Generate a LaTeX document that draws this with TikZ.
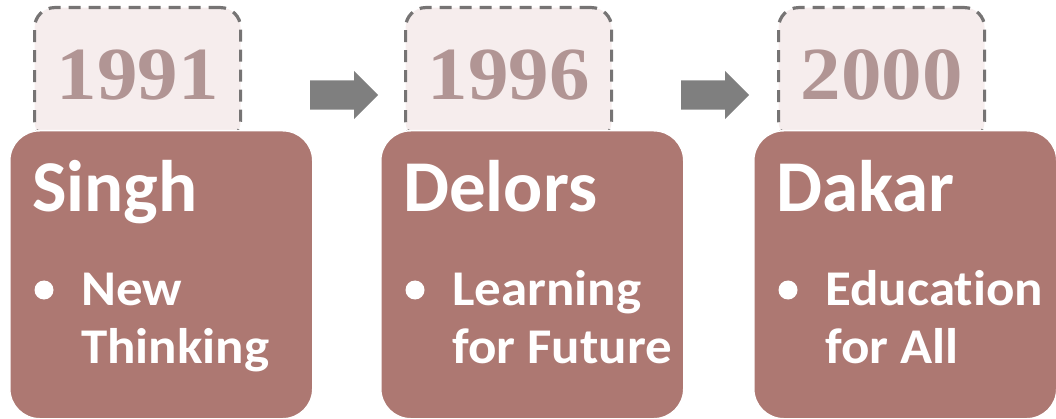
\documentclass[tikz,border=0pt]{standalone}
\usepackage{fontspec}
\setmainfont{Carlito}[Ligatures=NoCommon]
\newfontfamily\yearfont{Liberation Serif}
\usetikzlibrary{shapes,positioning}

\definecolor{boxred}{RGB}{173,120,114}
\definecolor{yearpink}{RGB}{246,237,237}
\definecolor{yeartext}{RGB}{177,149,148}
\definecolor{dashgray}{RGB}{118,116,116}
\definecolor{arrowgray}{RGB}{127,127,127}

\begin{document}
\begin{tikzpicture}[x=1pt, y=-1pt,
  yearbox/.style = {draw=dashgray, fill=yearpink, dash pattern=on 12pt off 8pt, line width=3.2pt, rounded corners=20pt, minimum width=206pt, minimum height=134pt, inner sep=0pt},
  yearnum/.style = {font=\yearfont\bfseries\fontsize{75}{80}\selectfont, text=yeartext, inner sep=0pt, xscale=1.08},
  mainbox/.style = {draw=white, line width=1.5pt, fill=boxred, rounded corners=30pt, minimum width=303pt, minimum height=288pt, anchor=north west, inner sep=0pt},
  heading/.style = {font=\bfseries\fontsize{73}{80}\selectfont, text=white, inner sep=0pt, anchor=base west},
  item/.style = {font=\bfseries\fontsize{50}{58}\selectfont, text=white, align=left, inner sep=0pt, anchor=base west, xscale=1.06},
  dot/.style = {circle, fill=white, inner sep=0pt, minimum size=19pt},
  arrowbox/.style = {single arrow, fill=arrowgray, draw=none, minimum height=68pt, minimum width=48pt, single arrow head extend=9.5pt, single arrow tip angle=90, inner xsep=0pt, inner ysep=14.5pt, anchor=west}]]
  \useasboundingbox (0,0) rectangle (1056,419);
  \foreach \px/\yr/\who/\lineA/\lineB/\id in {9/1991/Singh/New/Thinking/A, 380/1996/Delors/Learning/for Future/B, 753/2000/Dakar/Education/for All/C}{
    \node[yearbox, anchor=north west] (year\id) at (\px+24,6) {};
    \node[yearnum] (num\id) at (year\id.center) {\yr};
    \node[mainbox] (box\id) at (\px,130) {};
    \node[heading] (head\id) at (\px+23,212) {\who};
    \node[dot] (dot\id) at (\px+35,290) {};
    \node[item] (item\id) at (\px+72,363) {\lineA\\\lineB};
  }
  \node[arrowbox] (arrA) at (310,95) {};
  \node[arrowbox] (arrB) at (681,95) {};
\end{tikzpicture}
\end{document}
